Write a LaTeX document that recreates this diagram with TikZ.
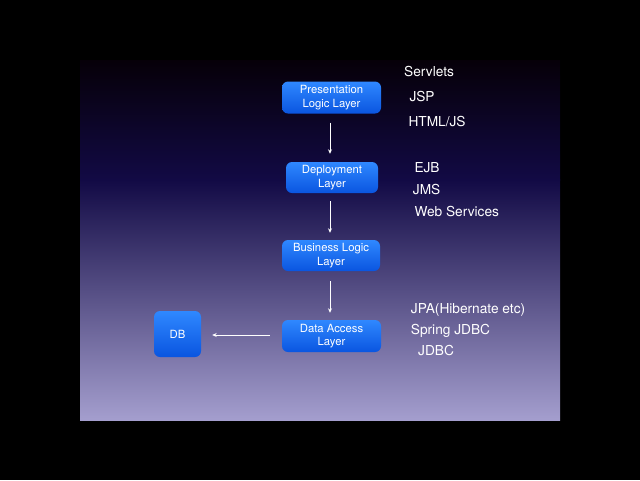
\documentclass[tikz,border=0pt]{standalone}
\usepackage{fontspec}
\setmainfont{TeX Gyre Heros}
\usetikzlibrary{arrows.meta}
\definecolor{slidetop}{HTML}{060008}
\definecolor{slidemid}{HTML}{120A45}
\definecolor{slidebot}{HTML}{A49ECE}
\definecolor{boxtop}{HTML}{2F88FF}
\definecolor{boxbot}{HTML}{0A55E0}
\tikzset{
  layer/.style={rounded corners=6pt, top color=boxtop, bottom color=boxbot,
    text=white, align=center, inner sep=0pt,
    font=\fontsize{11.3}{13.3}\selectfont},
  lbl/.style={anchor=base west, text=white, inner sep=0pt,
    font=\fontsize{13.7}{16}\selectfont},
  flow/.style={white, line width=0.9pt, -{Stealth[length=4.5pt,width=4pt]}}
}
\begin{document}
\begin{tikzpicture}[x=1pt,y=-1pt]
\useasboundingbox (0,0) rectangle (640,480);
\fill[black] (0,0) rectangle (640,480);
\shade[top color=slidetop, bottom color=slidemid] (80,60) rectangle (560,180);
\shade[top color=slidemid, bottom color=slidebot] (80,179.5) rectangle (560,420);

\node[layer, minimum width=99pt, minimum height=32pt] (pl) at (331.5,97.5) {Presentation\\Logic Layer};
\node[layer, minimum width=92pt, minimum height=31pt] (dl) at (332,177.5) {Deployment\\Layer};
\node[layer, minimum width=98pt, minimum height=31pt] (bl) at (331,255.5) {Business Logic\\Layer};
\node[layer, minimum width=99pt, minimum height=32pt] (da) at (331.5,336) {Data Access\\Layer};
\node[layer, minimum width=47pt, minimum height=46pt] (db) at (177.5,334) {DB};

\draw[flow, shorten <=9pt, shorten >=8pt] (pl.south -| 330,0) -- (dl.north -| 330,0);
\draw[flow, shorten <=8pt, shorten >=7pt] (dl.south -| 330,0) -- (bl.north -| 330,0);
\draw[flow, shorten <=10pt, shorten >=7pt] (bl.south -| 330,0) -- (da.north -| 330,0);
\draw[flow, shorten <=12pt, shorten >=11pt] (da.west |- 0,335) -- (db.east |- 0,335);

\node[lbl] (t1) at (404,76) {Servlets};
\node[lbl] (t2) at (409.3,101) {JSP};
\node[lbl] (t3) at (408.3,126.5) {HTML/JS};
\node[lbl] (t4) at (414.3,172) {EJB};
\node[lbl] (t5) at (412.7,194) {JMS};
\node[lbl] (t6) at (414.3,216) {Web Services};
\node[lbl] (t7) at (410.7,313.3) {JPA(Hibernate etc)};
\node[lbl] (t8) at (410.7,334.3) {Spring JDBC};
\node[lbl] (t9) at (418,355) {JDBC};
\end{tikzpicture}
\end{document}
